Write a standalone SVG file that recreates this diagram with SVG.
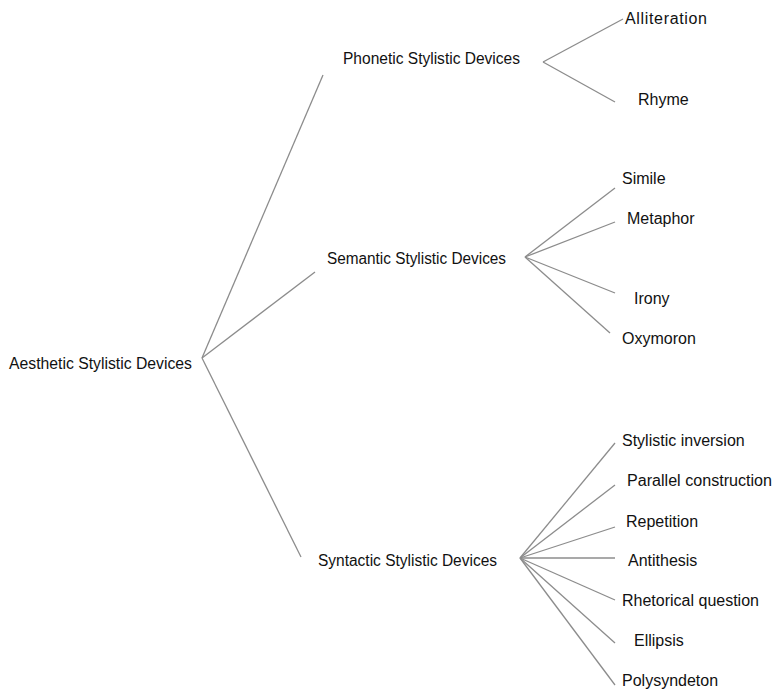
<svg xmlns="http://www.w3.org/2000/svg" width="774" height="689" viewBox="0 0 774 689">
<style>
text{font-family:"Liberation Sans","Open Sans",sans-serif;font-size:16px;fill:#111}
.c line{stroke:#8c8c8c;stroke-width:1.3;fill:none}
</style>
<rect width="774" height="689" fill="#fff"/>
<g class="c" id="connectors">
<line x1="202" y1="358" x2="323" y2="75"/>
<line x1="202" y1="358" x2="315" y2="272"/>
<line x1="202" y1="358" x2="301" y2="557"/>
<line x1="543" y1="62" x2="623" y2="19"/>
<line x1="543" y1="62" x2="615" y2="102"/>
<line x1="525" y1="257" x2="615" y2="188"/>
<line x1="525" y1="257" x2="615" y2="222"/>
<line x1="525" y1="257" x2="615" y2="293"/>
<line x1="525" y1="257" x2="610" y2="333"/>
<line x1="520" y1="558" x2="615" y2="443"/>
<line x1="520" y1="558" x2="615" y2="485"/>
<line x1="520" y1="558" x2="615" y2="527"/>
<line x1="520" y1="558" x2="615" y2="558"/>
<line x1="520" y1="558" x2="615" y2="600"/>
<line x1="520" y1="558" x2="615" y2="643"/>
<line x1="520" y1="558" x2="615" y2="685"/>
</g>
<g id="root"><text x="9" y="369" textLength="183" lengthAdjust="spacingAndGlyphs">Aesthetic Stylistic Devices</text></g>
<g id="phonetic"><text x="343" y="64" textLength="177" lengthAdjust="spacingAndGlyphs">Phonetic Stylistic Devices</text></g>
<g id="semantic"><text x="327" y="264" textLength="179" lengthAdjust="spacingAndGlyphs">Semantic Stylistic Devices</text></g>
<g id="syntactic"><text x="318" y="566" textLength="179" lengthAdjust="spacingAndGlyphs">Syntactic Stylistic Devices</text></g>
<g id="alliteration"><text x="625" y="24" textLength="82">Alliteration</text></g>
<g id="rhyme"><text x="638" y="105">Rhyme</text></g>
<g id="simile"><text x="622" y="184">Simile</text></g>
<g id="metaphor"><text x="627" y="224">Metaphor</text></g>
<g id="irony"><text x="634" y="304">Irony</text></g>
<g id="oxymoron"><text x="622" y="344">Oxymoron</text></g>
<g id="inversion"><text x="622" y="446">Stylistic inversion</text></g>
<g id="parallel"><text x="627" y="486" textLength="145" lengthAdjust="spacingAndGlyphs">Parallel construction</text></g>
<g id="repetition"><text x="626" y="527">Repetition</text></g>
<g id="antithesis"><text x="628" y="566">Antithesis</text></g>
<g id="rhetorical"><text x="622" y="606">Rhetorical question</text></g>
<g id="ellipsis"><text x="634" y="646">Ellipsis</text></g>
<g id="polysyndeton"><text x="622" y="686">Polysyndeton</text></g>
</svg>
